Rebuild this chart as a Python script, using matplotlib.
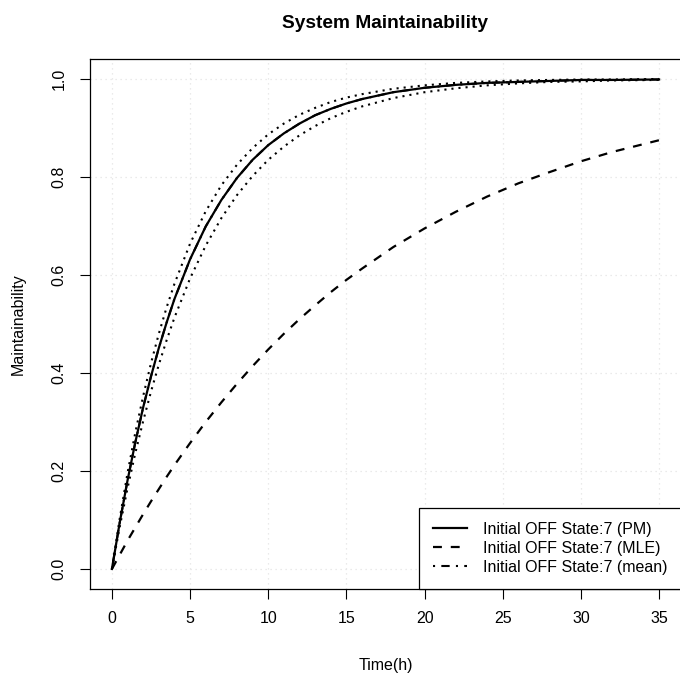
import matplotlib

matplotlib.use("Agg")
import matplotlib.pyplot as plt

plt.rcParams["font.family"] = ["Liberation Sans", "DejaVu Sans"]

# ---------------------- Data ----------------------

time_h = [0, 0.5, 1, 1.5, 2, 2.5, 3, 3.5, 4, 5, 6, 7, 8, 9, 10, 11, 12, 13, 14,
          15, 16, 18, 20, 22, 24, 26, 28, 30, 32, 35]

maint_pm = [0.0, 0.095, 0.181, 0.259, 0.330, 0.393, 0.451, 0.503, 0.551, 0.632,
            0.699, 0.753, 0.798, 0.835, 0.865, 0.889, 0.909, 0.926, 0.939,
            0.950, 0.959, 0.973, 0.982, 0.988, 0.992, 0.994, 0.996, 0.998,
            0.998, 0.999]

maint_pm_upper = [0.0, 0.103, 0.196, 0.279, 0.353, 0.420, 0.480, 0.534, 0.582,
                  0.664, 0.730, 0.783, 0.825, 0.859, 0.887, 0.909, 0.927,
                  0.941, 0.953, 0.962, 0.969, 0.980, 0.987, 0.992, 0.995,
                  0.997, 0.998, 0.999, 0.999, 1.000]

maint_pm_lower = [0.0, 0.086, 0.165, 0.237, 0.302, 0.362, 0.417, 0.467, 0.513,
                  0.593, 0.660, 0.716, 0.763, 0.802, 0.835, 0.862, 0.885,
                  0.904, 0.920, 0.933, 0.944, 0.961, 0.973, 0.981, 0.987,
                  0.991, 0.994, 0.995, 0.997, 0.998]

maint_mle = [0.0, 0.029, 0.058, 0.085, 0.112, 0.138, 0.163, 0.188, 0.212, 0.257,
             0.300, 0.340, 0.378, 0.414, 0.448, 0.480, 0.510, 0.538, 0.565,
             0.590, 0.613, 0.657, 0.695, 0.729, 0.760, 0.787, 0.810, 0.832,
             0.851, 0.875]

# the mean curve sits under the PM curve
maint_mean = maint_pm

legend_labels = [
    "Initial OFF State:7 (PM)",
    "Initial OFF State:7 (MLE)",
    "Initial OFF State:7 (mean)",
]

x_ticks = [0, 5, 10, 15, 20, 25, 30, 35]
y_ticks = [0.0, 0.2, 0.4, 0.6, 0.8, 1.0]

# ---------------------- Plot ----------------------

FS = 11.5

fig = plt.figure(figsize=(6.8, 6.77), dpi=100)
ax = fig.add_axes([0.1324, 0.1306, 0.869, 0.7817])

ax.grid(True, color="#e4e4e4", linestyle=(0, (1, 3)), linewidth=0.9)
ax.set_axisbelow(True)

ax.plot(time_h, maint_mean, color="black", linewidth=1.5,
        linestyle=(0, (1, 3, 4, 3)), label=legend_labels[2], zorder=2)
ax.plot(time_h, maint_pm_upper, color="black", linewidth=1.5,
        linestyle=(0, (1, 2.4)), dash_capstyle="butt", zorder=2)
ax.plot(time_h, maint_pm_lower, color="black", linewidth=1.5,
        linestyle=(0, (1, 2.4)), dash_capstyle="butt", zorder=2)
ax.plot(time_h, maint_pm, color="black", linewidth=1.6,
        label=legend_labels[0], zorder=3)
ax.plot(time_h, maint_mle, color="black", linewidth=1.6,
        linestyle=(0, (4, 4)), label=legend_labels[1], zorder=3)

ax.set_xlim(-1.4, 36.4)
ax.set_ylim(-0.04, 1.04)
ax.set_xticks(x_ticks)
ax.set_xticklabels([str(v) for v in x_ticks])
ax.set_yticks(y_ticks)
ax.set_yticklabels([f"{v:.1f}" for v in y_ticks], rotation=90, va="center")

ax.tick_params(axis="both", direction="out", length=7.2, width=0.8,
               labelsize=FS, colors="black")
ax.tick_params(axis="x", pad=9)
ax.tick_params(axis="y", pad=9.5)
for sp in ax.spines.values():
    sp.set_linewidth(0.9)
    sp.set_color("black")

ax.set_title("System Maintainability", fontsize=13.8, fontweight="bold",
             y=1.067, va="center", pad=0)
ax.set_xlabel("Time(h)", fontsize=FS)
ax.xaxis.set_label_coords(0.5, -0.1444)
ax.xaxis.label.set_va("center")
ax.set_ylabel("Maintainability", fontsize=FS)
ax.yaxis.set_label_coords(-0.1218, 0.5)
ax.yaxis.label.set_va("center")

handles, labels = ax.get_legend_handles_labels()
order = [labels.index(l) for l in legend_labels]
leg = ax.legend([handles[i] for i in order], [labels[i] for i in order],
                loc="lower right", borderaxespad=0, fontsize=FS,
                fancybox=False, framealpha=1, edgecolor="black",
                handlelength=2.15, handletextpad=1.0, labelspacing=0.25,
                borderpad=0.85)
leg.get_frame().set_linewidth(0.9)

fig.savefig("out.png", dpi=100)
